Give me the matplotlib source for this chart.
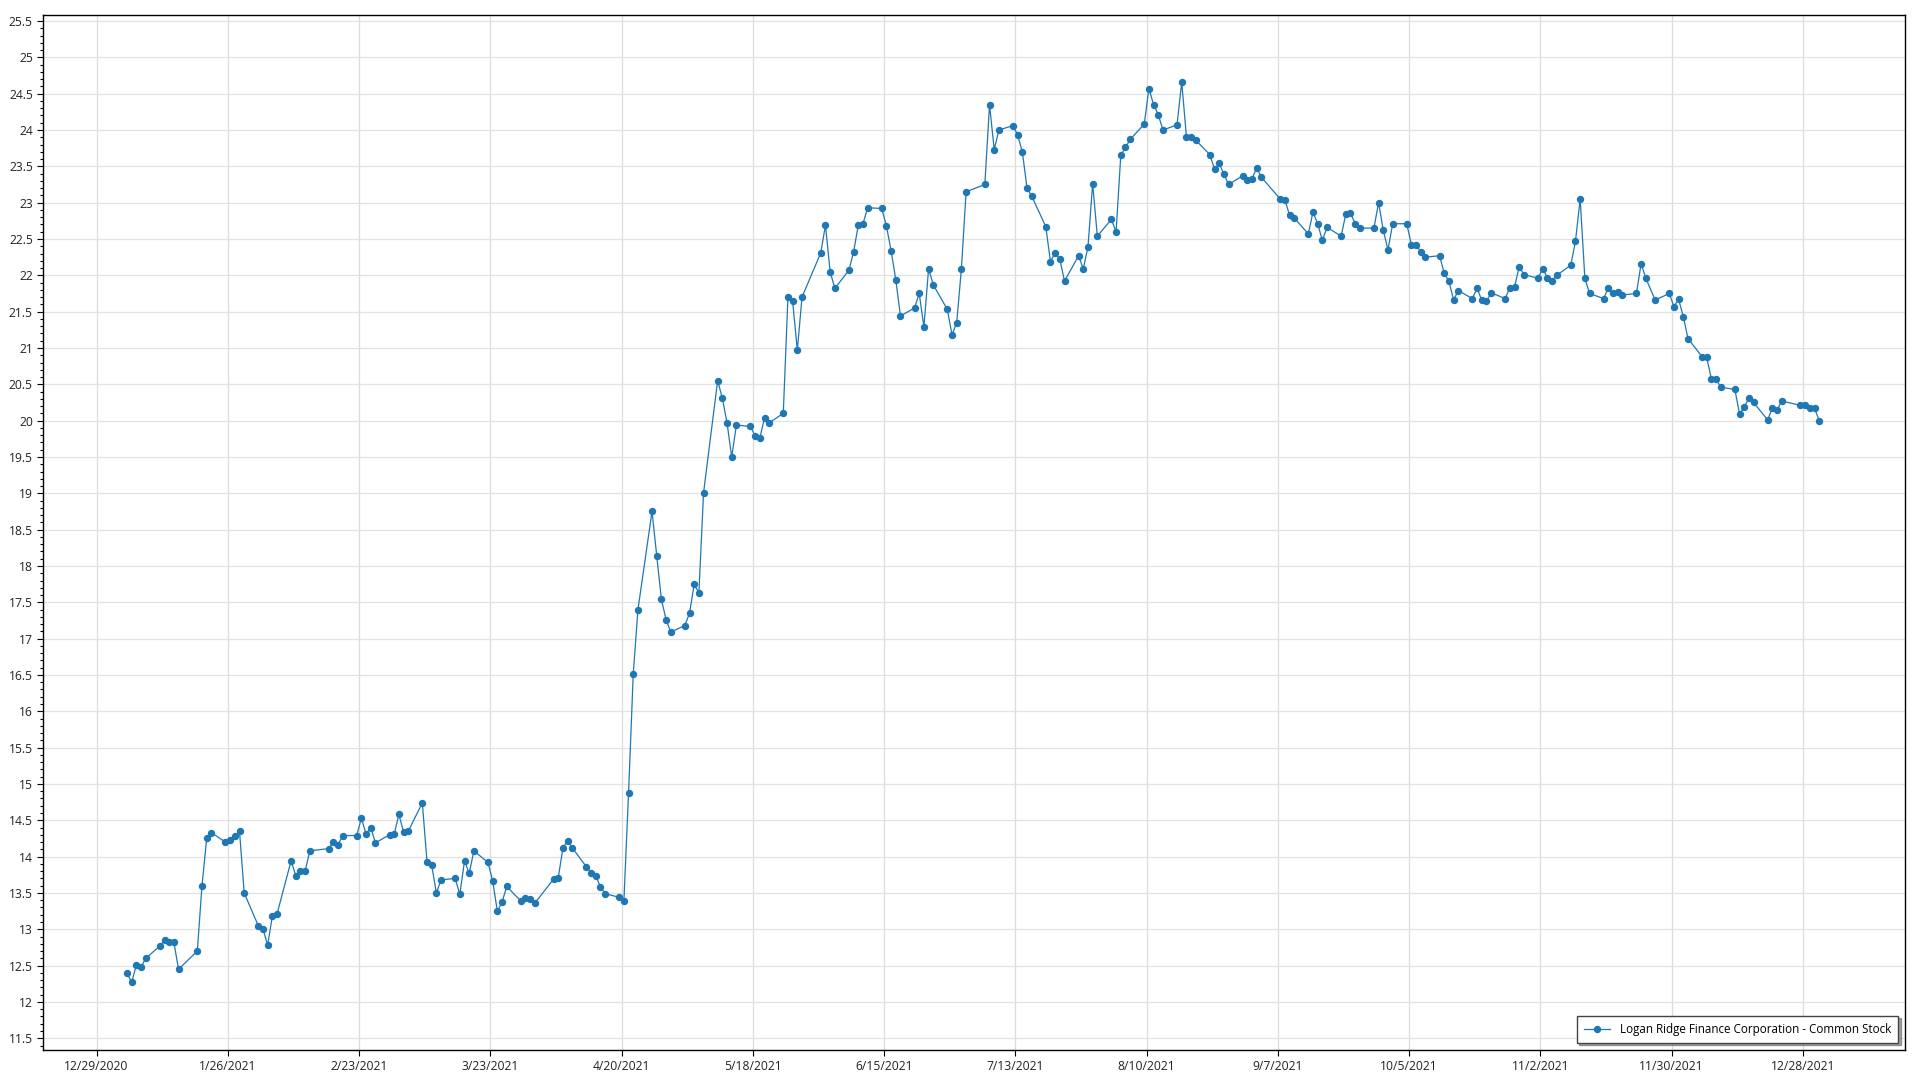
import numpy as np
import pandas as pd
import matplotlib
matplotlib.use("Agg")
import matplotlib.pyplot as plt
import matplotlib.dates as mdates
from matplotlib.ticker import MultipleLocator, FuncFormatter

# daily closing prices, 2021 (trading days only)
jan_days = [4, 5, 6, 7, 8, 11, 12, 13, 14, 15, 19, 20, 21, 22, 25, 26, 27, 28, 29]
jan_close = [12.40, 12.27, 12.51, 12.48, 12.60, 12.77, 12.85, 12.82, 12.82, 12.45,
             12.70, 13.60, 14.25, 14.33, 14.20, 14.23, 14.28, 14.35, 13.50]
feb_days = [1, 2, 3, 4, 5, 8, 9, 10, 11, 12, 16, 17, 18, 19, 22, 23, 24, 25, 26]
feb_close = [13.05, 13.01, 12.78, 13.18, 13.21, 13.94, 13.74, 13.80, 13.80, 14.08,
             14.11, 14.20, 14.16, 14.29, 14.29, 14.53, 14.31, 14.40, 14.19]
mar_days = [1, 2, 3, 4, 5, 8, 9, 10, 11, 12, 15, 16, 17, 18, 19, 22, 23, 24, 25, 26,
            29, 30, 31]
mar_close = [14.30, 14.31, 14.58, 14.34, 14.35, 14.74, 13.93, 13.88, 13.50, 13.68,
             13.70, 13.48, 13.94, 13.77, 14.08, 13.92, 13.67, 13.25, 13.37, 13.59,
             13.39, 13.43, 13.42]
apr_days = [1, 5, 6, 7, 8, 9, 12, 13, 14, 15, 16, 19, 20, 21, 22, 23, 26, 27, 28, 29, 30]
apr_close = [13.36, 13.69, 13.71, 14.12, 14.22, 14.12, 13.86, 13.78, 13.74, 13.58,
             13.49, 13.44, 13.39, 14.88, 16.52, 17.40, 18.75, 18.14, 17.54, 17.26, 17.09]
may_days = [3, 4, 5, 6, 7, 10, 11, 12, 13, 14, 17, 18, 19, 20, 21, 24, 25, 26, 27, 28]
may_close = [17.18, 17.35, 17.75, 17.63, 19.01, 20.55, 20.31, 19.97, 19.50, 19.94,
             19.92, 19.79, 19.76, 20.04, 19.97, 20.10, 21.70, 21.64, 20.97, 21.70]
jun_days = [1, 2, 3, 4, 7, 8, 9, 10, 11, 14, 15, 16, 17, 18, 21, 22, 23, 24, 25, 28,
            29, 30]
jun_close = [22.31, 22.69, 22.05, 21.82, 22.07, 22.32, 22.69, 22.71, 22.93, 22.92,
             22.68, 22.34, 21.94, 21.44, 21.55, 21.75, 21.29, 22.09, 21.87, 21.53,
             21.18, 21.35]
jul_days = [1, 2, 6, 7, 8, 9, 12, 13, 14, 15, 16, 19, 20, 21, 22, 23, 26, 27, 28, 29, 30]
jul_close = [22.09, 23.15, 23.25, 24.35, 23.73, 24.00, 24.06, 23.93, 23.70, 23.20,
             23.09, 22.67, 22.19, 22.31, 22.22, 21.92, 22.27, 22.09, 22.39, 23.26, 22.54]
aug_days = [2, 3, 4, 5, 6, 9, 10, 11, 12, 13, 16, 17, 18, 19, 20, 23, 24, 25, 26, 27,
            30, 31]
aug_close = [22.77, 22.60, 23.65, 23.76, 23.87, 24.08, 24.57, 24.35, 24.21, 24.00,
             24.07, 24.66, 23.91, 23.91, 23.86, 23.66, 23.46, 23.54, 23.39, 23.25,
             23.37, 23.31]
sep_days = [1, 2, 3, 7, 8, 9, 10, 13, 14, 15, 16, 17, 20, 21, 22, 23, 24, 27, 28, 29, 30]
sep_close = [23.33, 23.48, 23.35, 23.05, 23.04, 22.83, 22.79, 22.57, 22.87, 22.71,
             22.48, 22.66, 22.54, 22.84, 22.86, 22.71, 22.65, 22.65, 23.00, 22.62, 22.35]
oct_days = [1, 4, 5, 6, 7, 8, 11, 12, 13, 14, 15, 18, 19, 20, 21, 22, 25, 26, 27, 28, 29]
oct_close = [22.71, 22.71, 22.42, 22.42, 22.32, 22.25, 22.27, 22.03, 21.92, 21.66,
             21.79, 21.68, 21.82, 21.66, 21.64, 21.76, 21.68, 21.83, 21.84, 22.12, 22.01]
nov_days = [1, 2, 3, 4, 5, 8, 9, 10, 11, 12, 15, 16, 17, 18, 19, 22, 23, 24, 26, 29, 30]
nov_close = [21.96, 22.09, 21.97, 21.92, 22.00, 22.14, 22.47, 23.05, 21.96, 21.75,
             21.68, 21.83, 21.75, 21.77, 21.73, 21.75, 22.16, 21.96, 21.66, 21.75, 21.57]
dec_days = [1, 2, 3, 6, 7, 8, 9, 10, 13, 14, 15, 16, 17, 20, 21, 22, 23, 27, 28, 29,
            30, 31]
dec_close = [21.67, 21.43, 21.13, 20.88, 20.87, 20.57, 20.57, 20.46, 20.43, 20.09,
             20.19, 20.31, 20.25, 20.01, 20.18, 20.14, 20.27, 20.21, 20.22, 20.17,
             20.17, 20.00]

series_label = "Logan Ridge Finance Corporation - Common Stock"

months = [jan_days, feb_days, mar_days, apr_days, may_days, jun_days,
          jul_days, aug_days, sep_days, oct_days, nov_days, dec_days]
closes = [jan_close, feb_close, mar_close, apr_close, may_close, jun_close,
          jul_close, aug_close, sep_close, oct_close, nov_close, dec_close]

dates, prices = [], []
for m, (days, vals) in enumerate(zip(months, closes), start=1):
    for d, v in zip(days, vals):
        dates.append(pd.Timestamp(2021, m, d) + pd.Timedelta(hours=12))
        prices.append(v)

tick_start = pd.Timestamp(2020, 12, 29)
tick_dates = [tick_start + pd.Timedelta(days=28 * i) for i in range(14)]

# ---------------------------------------------------------------------------
plt.rcParams['font.family'] = ['Open Sans', 'DejaVu Sans']
fig = plt.figure(figsize=(19.2, 10.8), dpi=100)
ax = fig.add_axes([0.0222, 0.0278, 0.9700, 0.9580])

col = '#1f77b4'
ax.plot(dates, prices, '-o', color=col, lw=0.9, ms=4.3, mec=col, label=series_label)

ax.set_xlim(tick_start - pd.Timedelta(days=11.5), tick_start + pd.Timedelta(days=385.8))
ax.set_ylim(11.339, 25.578)

ax.set_xticks(tick_dates)
ax.xaxis.set_major_formatter(FuncFormatter(
    lambda x, pos: (lambda t: f"{t.month}/{t.day}/{t.year}")(mdates.num2date(x))))
ax.yaxis.set_major_locator(MultipleLocator(0.5))
ax.yaxis.set_minor_locator(MultipleLocator(0.1))
ax.yaxis.set_major_formatter(FuncFormatter(lambda v, pos: f"{v:g}"))

ax.tick_params(axis='both', which='major', length=4, width=0.8, labelsize=8.7,
               pad=3, colors='#000000', labelcolor='#222222')
ax.tick_params(axis='y', which='minor', length=2, width=0.8)

ax.grid(True, axis='y', color='#e2e2e2', lw=0.9)
ax.grid(True, axis='x', color='#dcdcdc', lw=0.9)
ax.set_axisbelow(True)
for s in ax.spines.values():
    s.set_linewidth(1.0)
    s.set_color('#000000')

leg = ax.legend(loc='lower right', bbox_to_anchor=(0.9962, 0.0071), borderaxespad=0,
                fontsize=8.4, frameon=True, fancybox=False, shadow=True,
                numpoints=1, handlelength=2.3, borderpad=0.6)
leg.get_frame().set_edgecolor('#444444')
leg.get_frame().set_linewidth(1.0)

fig.savefig('out.png', dpi=100)
